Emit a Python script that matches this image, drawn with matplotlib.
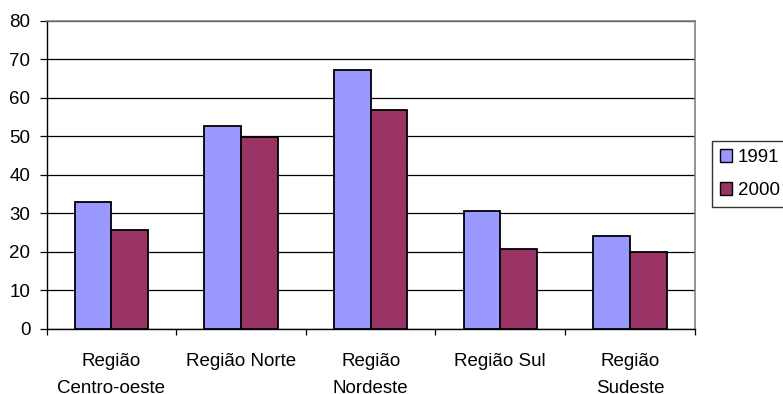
import matplotlib.pyplot as plt
import numpy as np
from matplotlib.patches import Patch

plt.rcParams['font.family'] = ['Liberation Sans', 'DejaVu Sans']

# data
regioes = ['Região\nCentro-oeste', 'Região Norte', 'Região\nNordeste', 'Região Sul', 'Região\nSudeste']
v1991 = [32.8, 52.6, 67.1, 30.6, 24.1]
v2000 = [25.7, 49.8, 56.8, 20.8, 19.9]
anos = ['1991', '2000']
cores = ['#9999FF', '#993366']

fig = plt.figure(figsize=(7.83, 3.94), dpi=100)
ax = fig.add_axes([0.0596, 0.1657, 0.8276, 0.7818])

x = np.arange(len(regioes))
w = 0.283
ax.bar(x - w / 2, v1991, w, color=cores[0], edgecolor='black', linewidth=1.3, zorder=3)
ax.bar(x + w / 2, v2000, w, color=cores[1], edgecolor='black', linewidth=1.3, zorder=3)

ax.set_xlim(-0.5, len(regioes) - 0.5)
ax.set_ylim(0, 80)
ax.set_yticks(range(0, 81, 10))
ax.yaxis.grid(True, color='black', linewidth=0.9, zorder=0)

# labels centred, ticks on the category boundaries
ax.set_xticks(x)
ax.set_xticklabels(regioes, fontsize=13.5, linespacing=1.75, va='top')
ax.set_xticks(np.arange(-0.5, len(regioes)), minor=True)
ax.tick_params(axis='x', which='major', length=0, pad=17.5)
ax.tick_params(axis='x', which='minor', length=4.5, width=0.9, direction='out')
ax.tick_params(axis='y', length=5.3, width=0.9, pad=6.5, labelsize=13.5)

for s in ['top', 'right']:
    ax.spines[s].set_color('#808080')
    ax.spines[s].set_linewidth(1.2)
for s in ['left', 'bottom']:
    ax.spines[s].set_color('black')
    ax.spines[s].set_linewidth(1.0)

handles = [Patch(facecolor=c, edgecolor='black', linewidth=1.0) for c in cores]
leg = fig.legend(handles, anos, loc='upper left', bbox_to_anchor=(0.909, 0.643),
                 fontsize=13.5, frameon=True, fancybox=False, edgecolor='black',
                 handlelength=0.65, handleheight=0.65, handletextpad=0.3,
                 borderpad=0.45, labelspacing=0.85, borderaxespad=0)
leg.get_frame().set_linewidth(1.0)

fig.savefig('out.png', dpi=100)
